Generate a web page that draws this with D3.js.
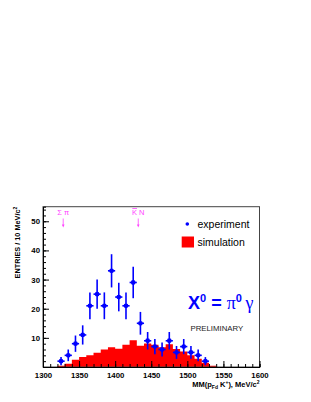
<!DOCTYPE html>
<html>
<head>
<meta charset="utf-8">
<script src="https://cdn.jsdelivr.net/npm/d3@7"></script>
<style>
  body { margin: 0; background: #fff; }
  text { font-family: "Liberation Sans", Arial, sans-serif; }
</style>
</head>
<body>
<svg width="311" height="402"></svg>
<script>
// experiment points (bin centres, counts, errors)
const expMass   = [1325,1335,1345,1355,1365,1375,1385,1395,1405,1415,1425,1435,1445,1455,1465,1475,1485,1495,1505,1515,1525];
const expCounts = [2,4,8,11,21,25,21,33,24,21,29,15,9,7,6,9,5,7,5,4,2];
const expErrors = [1.4,2.0,2.8,3.3,4.6,5.0,4.6,5.7,4.9,4.6,5.4,3.9,3.0,2.6,2.4,3.0,2.2,2.6,2.2,2.0,1.4];

// simulation histogram (lower bin edges, heights)
const simEdges  = [1320,1330,1340,1350,1360,1370,1380,1390,1400,1410,1420,1430,1440,1450,1460,1470,1480,1490,1500,1510,1520,1530];
const simCounts = [0.4,1.1,2.5,3.4,4.0,4.9,6.0,6.8,6.3,7.6,9.2,7.3,8.1,7.6,6.8,7.8,6.2,5.3,4.0,2.8,1.5,0.4];

const xTicks = [1300,1350,1400,1450,1500,1550,1600];
const yTicks = [10,20,30,40,50];

const binWidth = 10;

const svg = d3.select("svg");
const pLeft = 43, pRight = 259.5, pTop = 206.7, pBottom = 367;

const x = d3.scaleLinear().domain([1300, 1600]).range([pLeft, pRight]);
const y = d3.scaleLinear().domain([0, 55]).range([pBottom, pTop]);

// simulation histogram as one step area
const simPts = simEdges.map((e, i) => [e, simCounts[i]]);
simPts.push([simEdges[simEdges.length - 1] + binWidth, simCounts[simCounts.length - 1]]);
const area = d3.area()
    .x(d => x(d[0]))
    .y0(y(0))
    .y1(d => y(d[1]))
    .curve(d3.curveStepAfter);
svg.append("path")
    .datum(simPts)
    .attr("d", area)
    .attr("fill", "#ff0000");

// frame
svg.append("rect")
    .attr("x", pLeft).attr("y", pTop)
    .attr("width", pRight - pLeft).attr("height", pBottom - pTop)
    .attr("fill", "none").attr("stroke", "#444").attr("stroke-width", 1);

// axes, ticks pointing inward
const axX = svg.append("g").attr("transform", `translate(0,${pBottom})`);
axX.call(d3.axisBottom(x).tickValues(d3.range(1300, 1601, 10)).tickSize(-3).tickFormat(""));
axX.append("g").call(d3.axisBottom(x).tickValues(xTicks).tickFormat(d3.format("d"))
    .tickSizeInner(-6).tickSizeOuter(0).tickPadding(5));

const axY = svg.append("g").attr("transform", `translate(${pLeft},0)`);
axY.call(d3.axisLeft(y).tickValues(d3.range(2, 55, 2)).tickSize(-3).tickFormat(""));
axY.append("g").call(d3.axisLeft(y).tickValues(yTicks).tickFormat(d3.format("d"))
    .tickSizeInner(-6).tickSizeOuter(0).tickPadding(3));

svg.selectAll(".domain").attr("stroke", "#000");
svg.selectAll(".tick line").attr("stroke", "#000");
svg.selectAll(".tick text")
    .attr("font-family", "Liberation Sans, Arial, sans-serif")
    .attr("font-weight", "bold")
    .attr("font-size", 7.8)
    .attr("fill", "#000");

// experiment points with error bars
const pts = svg.append("g").attr("stroke", "#0000ff").attr("stroke-width", 1.6);
expMass.forEach((m, i) => {
    const v = expCounts[i], e = expErrors[i];
    pts.append("line")
        .attr("x1", x(m)).attr("x2", x(m))
        .attr("y1", y(v - e)).attr("y2", y(v + e));
    pts.append("line")
        .attr("x1", x(m - binWidth / 2)).attr("x2", x(m + binWidth / 2))
        .attr("y1", y(v)).attr("y2", y(v));
    pts.append("circle")
        .attr("cx", x(m)).attr("cy", y(v)).attr("r", 2.4)
        .attr("fill", "#0000ff").attr("stroke", "none");
});

// threshold markers
const thresholds = [{m: 1328, label: "Σ π"}, {m: 1432, label: "K N", bar: true}];
thresholds.forEach(t => {
    const g = svg.append("g").attr("fill", "#ff44ff").attr("stroke", "#ff44ff");
    const tx = svg.append("text")
        .attr("x", x(t.m)).attr("y", 215)
        .attr("text-anchor", "middle")
        .attr("font-family", "DejaVu Serif, serif")
        .attr("font-size", 7.5)
        .attr("fill", "#ff44ff")
        .text(t.label);
    if (t.bar) {
        const bb = tx.node().getBBox();
        svg.append("line")
            .attr("x1", bb.x + 0.3).attr("x2", bb.x + 5)
            .attr("y1", bb.y + 0.5).attr("y2", bb.y + 0.5)
            .attr("stroke", "#ff44ff").attr("stroke-width", 0.8);
    }
    g.append("line")
        .attr("x1", x(t.m)).attr("x2", x(t.m))
        .attr("y1", 218.5).attr("y2", 226)
        .attr("stroke-width", 0.8);
    g.append("path")
        .attr("d", `M${x(t.m) - 1.3},224.5 L${x(t.m) + 1.3},224.5 L${x(t.m)},227.5 Z`)
        .attr("stroke", "none");
});

// legend
svg.append("circle").attr("cx", 187.3).attr("cy", 224).attr("r", 1.8).attr("fill", "#0000ff");
svg.append("text").attr("x", 197.5).attr("y", 227.8)
    .attr("font-size", 10.5).attr("fill", "#000").text("experiment");
svg.append("rect").attr("x", 181.7).attr("y", 236.5).attr("width", 12.3).attr("height", 11)
    .attr("fill", "#ff0000");
svg.append("text").attr("x", 197.5).attr("y", 246)
    .attr("font-size", 10.5).attr("fill", "#000").text("simulation");

// X0 = pi0 gamma
const f = svg.append("text").attr("x", 188).attr("y", 309.3).attr("fill", "#0000ff").attr("font-size", 18);
f.append("tspan").attr("font-weight", "bold").text("X");
f.append("tspan").attr("font-weight", "bold").attr("font-size", 11).attr("dy", -7).text("0");
f.append("tspan").attr("font-weight", "bold").attr("dy", 7).text(" = ");
f.append("tspan").attr("font-family", "Liberation Serif, serif").text("π");
f.append("tspan").attr("font-weight", "bold").attr("font-size", 11).attr("dy", -7).text("0");
f.append("tspan").attr("font-family", "Liberation Serif, serif").attr("dy", 7).text("\u2009γ");

svg.append("text").attr("x", 190.5).attr("y", 330.5)
    .attr("font-size", 7.8).attr("fill", "#222").text("PRELIMINARY");

// axis titles
svg.append("text")
    .attr("transform", `translate(20,${pTop}) rotate(-90)`)
    .attr("text-anchor", "end")
    .attr("font-weight", "bold").attr("font-size", 7.3)
    .html('ENTRIES / 10 MeV/c<tspan font-size="5" dy="-3">2</tspan>');

svg.append("text")
    .attr("x", pRight).attr("y", 387)
    .attr("text-anchor", "end")
    .attr("font-weight", "bold").attr("font-size", 7.5)
    .html('MM(p<tspan font-size="5" dy="2">Fd</tspan><tspan dy="-2"> K</tspan><tspan font-size="5" dy="-3">+</tspan><tspan dy="3">), MeV/c</tspan><tspan font-size="5" dy="-3">2</tspan>');
</script>
</body>
</html>
